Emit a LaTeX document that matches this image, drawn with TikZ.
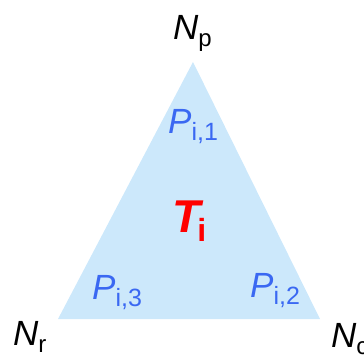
\documentclass[tikz,border=0pt]{standalone}
\usepackage{fontspec}
\setmainfont{Liberation Sans}
\newcommand{\sublab}[3][24]{\textit{#2}\raisebox{-0.2em}{\fontsize{#1}{#1}\selectfont #3}}
\begin{document}
\begin{tikzpicture}[x=1pt,y=1pt]
\definecolor{ctri}{HTML}{CCE8FB}
\definecolor{cblue}{HTML}{3A68F2}
\definecolor{cred}{HTML}{FF0000}
\tikzset{vlabel/.style={anchor=base west,inner sep=0pt,font=\fontsize{35}{40}\selectfont},
 plabel/.style={vlabel,text=cblue}}
\useasboundingbox (0,0) rectangle (364,-361);
% triangle
\coordinate (vp) at (193,-62);
\coordinate (vr) at (58,-319);
\coordinate (vc) at (320,-319);
\fill[ctri] (vp) -- (vr) -- (vc) -- cycle;
% vertex labels
\node[vlabel] (np) at (173,-40) {\sublab{N}{p}};
\node[vlabel] (nr) at (13,-345) {\sublab{N}{r}};
\node[vlabel] (nc) at (331,-347) {\sublab{N}{c}};
% side labels
\node[plabel] (p1) at (168,-133) {\sublab[25]{P}{i,1}};
\node[plabel] (p2) at (250,-297) {\sublab[25]{P}{i,2}};
\node[plabel] (p3) at (92,-299) {\sublab[25]{P}{i,3}};
\node[vlabel,text=cred,font=\fontsize{46}{50}\selectfont\bfseries] (ti) at (172,-232) {\sublab[32]{T\kern-3pt}{i}};
\end{tikzpicture}
\end{document}
